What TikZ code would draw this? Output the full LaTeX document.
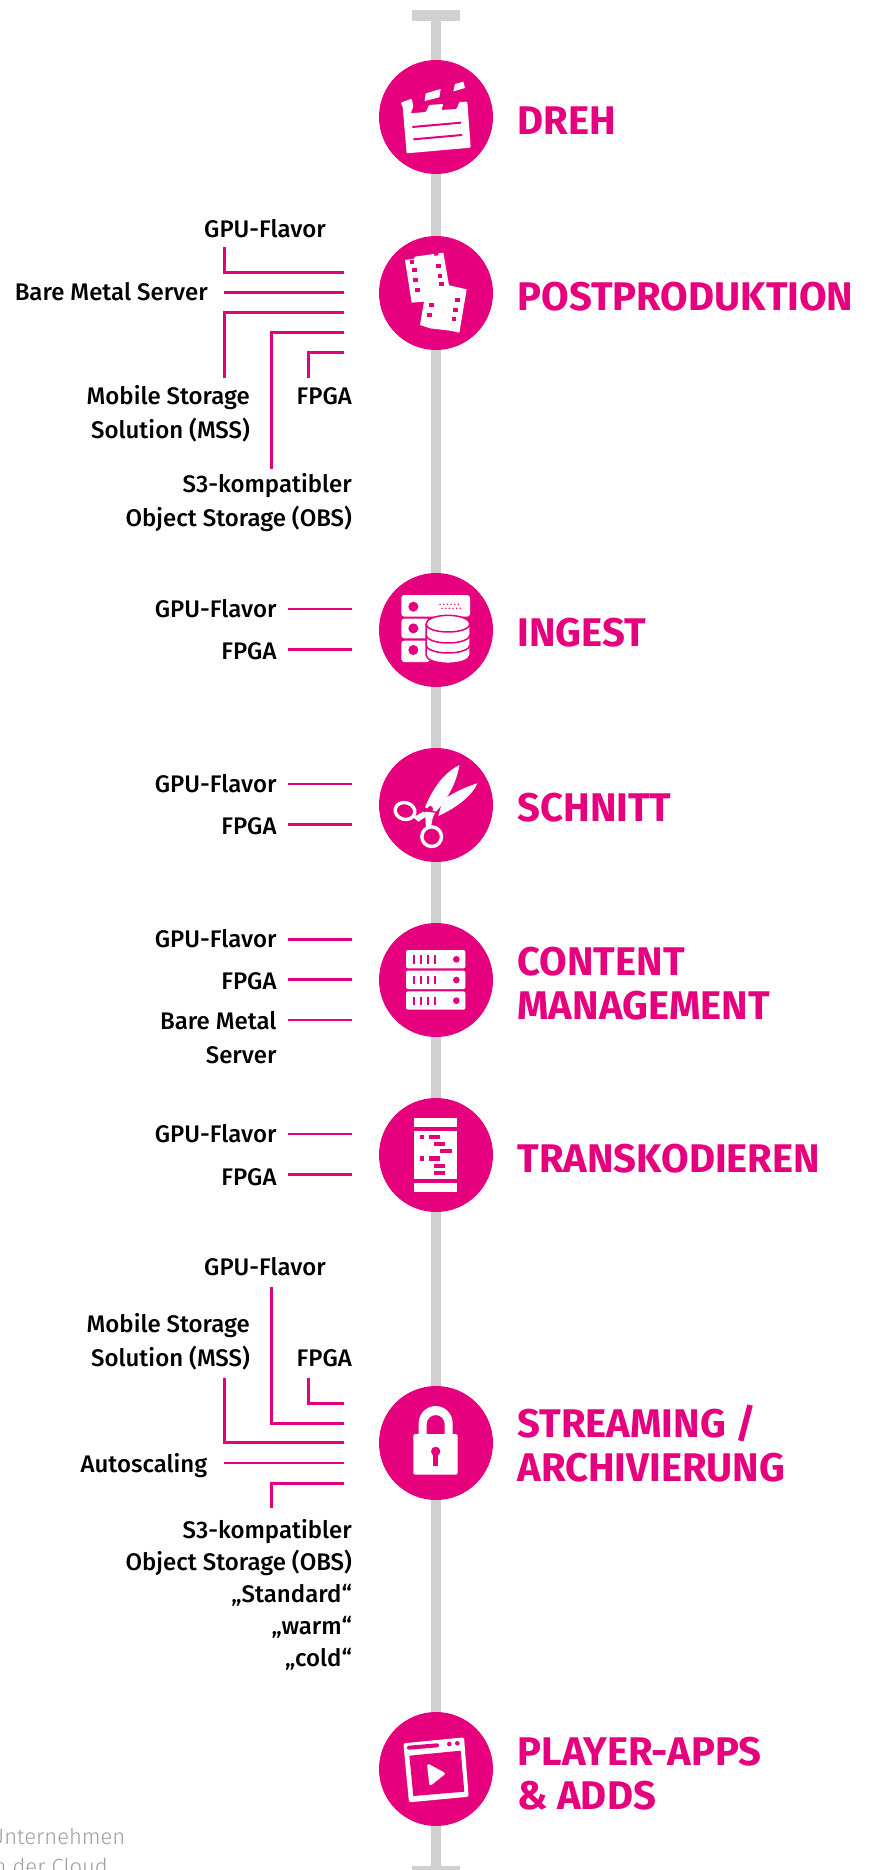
\documentclass[tikz,border=0pt]{standalone}
\usepackage{fontspec}
\setmainfont{Fira Sans Medium}
\newfontfamily\headfont{Fira Sans Bold}
\newfontfamily\footfont{Fira Sans Light}
\definecolor{tmagenta}{HTML}{E6007E}
\definecolor{axisgray}{HTML}{D0D0D0}
\tikzset{
	stage/.style={circle,fill=tmagenta,minimum size=114pt,inner sep=0pt},
	bar/.style={fill=axisgray,minimum width=48pt,minimum height=10.5pt,inner sep=0pt},
	axisline/.style={draw=axisgray,line width=10.5pt},
	feed/.style={draw=tmagenta,line width=2.5pt},
	head/.style={anchor=base west,inner sep=0pt,align=left,text=tmagenta,font=\headfont\fontsize{40}{44}\selectfont},
	lbl/.style={anchor=base east,inner sep=0pt,align=right,font=\fontsize{24}{34}\selectfont},
	foot/.style={anchor=base east,inner sep=0pt,text=black!38,font=\footfont\fontsize{22}{26}\selectfont}
}
\begin{document}
\begin{tikzpicture}[x=1pt,y=-1pt]
	\useasboundingbox (0,0) rectangle (868,1870);

	% vertical axis
	\node[bar] (topbar) at (436,15.3) {};
	\node[bar] (botbar) at (436,1871) {};
	\draw[axisline] (topbar) -- (botbar);

	% stages
	\node[stage] (dreh) at (436,117) {};
	\node[stage] (post) at (436,293) {};
	\node[stage] (ingest) at (436,630) {};
	\node[stage] (schnitt) at (436,805) {};
	\node[stage] (content) at (436,980) {};
	\node[stage] (trans) at (436,1155) {};
	\node[stage] (stream) at (436,1443) {};
	\node[stage] (player) at (436,1769) {};

	% headings
	\node[head] (drehT) at (517.3,134.3) {DREH};
	\node[head] (postT) at (517.3,310) {POSTPRODUKTION};
	\node[head] (ingestT) at (517.3,646.7) {INGEST};
	\node[head] (schnittT) at (517.3,821.7) {SCHNITT};
	\node[head] (contentT) at (517.3,1019) {CONTENT\\MANAGEMENT};
	\node[head] (transT) at (517.3,1172) {TRANSKODIEREN};
	\node[head] (streamT) at (517.3,1481) {STREAMING /\\ARCHIVIERUNG};
	\node[head] (playerT) at (517.3,1809) {PLAYER-APPS\\\& ADDS};

	% labels postproduktion
	\node[lbl] (postGpu) at (326,237.7) {GPU-Flavor};
	\node[lbl] (postBare) at (208,300.3) {Bare Metal Server};
	\node[lbl] (postMss) at (250,438) {Mobile Storage\\Solution (MSS)};
	\node[lbl] (postFpga) at (352,404) {FPGA};
	\node[lbl] (postObs) at (352,526.7) {S3-kompatibler\\Object Storage (OBS)};

	% lines postproduktion
	\coordinate (a1) at (224.7,247.3);
	\coordinate (a2) at (344,272.7);
	\draw[feed] (a1) |- (a2);
	\coordinate (b1) at (223.5,292.7);
	\coordinate (b2) at (344,292.7);
	\draw[feed] (b1) -- (b2);
	\coordinate (c1) at (224.7,377.7);
	\coordinate (c2) at (344,312.7);
	\draw[feed] (c1) |- (c2);
	\coordinate (d1) at (271.7,469.3);
	\coordinate (d2) at (344,332.7);
	\draw[feed] (d1) |- (d2);
	\coordinate (e1) at (308.3,377.7);
	\coordinate (e2) at (344,352.7);
	\draw[feed] (e1) |- (e2);

	% ingest
	\node[lbl] (ingestGpu) at (276.7,617.3) {GPU-Flavor};
	\node[lbl] (ingestFpga) at (276.7,659) {FPGA};
	\coordinate (f1) at (288,609);
	\coordinate (f2) at (352.3,609);
	\draw[feed] (f1) -- (f2);
	\coordinate (g1) at (288,649.7);
	\coordinate (g2) at (352.3,649.7);
	\draw[feed] (g1) -- (g2);

	% schnitt
	\node[lbl] (schnittGpu) at (276.7,792.3) {GPU-Flavor};
	\node[lbl] (schnittFpga) at (276.7,834.3) {FPGA};
	\coordinate (h1) at (288,784);
	\coordinate (h2) at (352.3,784);
	\draw[feed] (h1) -- (h2);
	\coordinate (i1) at (288,824.7);
	\coordinate (i2) at (352.3,824.7);
	\draw[feed] (i1) -- (i2);

	% content management
	\node[lbl] (contentGpu) at (276.7,947.7) {GPU-Flavor};
	\node[lbl] (contentFpga) at (276.7,989) {FPGA};
	\node[lbl] (contentBare) at (276.7,1063.3) {Bare Metal\\Server};
	\coordinate (j1) at (288,939.3);
	\coordinate (j2) at (352.3,939.3);
	\draw[feed] (j1) -- (j2);
	\coordinate (k1) at (288,979.7);
	\coordinate (k2) at (352.3,979.7);
	\draw[feed] (k1) -- (k2);
	\coordinate (l1) at (288,1020);
	\coordinate (l2) at (352.3,1020);
	\draw[feed] (l1) -- (l2);

	% transkodieren
	\node[lbl] (transGpu) at (276.7,1142.7) {GPU-Flavor};
	\node[lbl] (transFpga) at (276.7,1185) {FPGA};
	\coordinate (m1) at (288,1134);
	\coordinate (m2) at (352.3,1134);
	\draw[feed] (m1) -- (m2);
	\coordinate (n1) at (288,1174.7);
	\coordinate (n2) at (352.3,1174.7);
	\draw[feed] (n1) -- (n2);

	% streaming
	\node[lbl] (streamGpu) at (326,1275) {GPU-Flavor};
	\node[lbl] (streamMss) at (250,1366) {Mobile Storage\\Solution (MSS)};
	\node[lbl] (streamFpga) at (352,1366) {FPGA};
	\node[lbl] (streamAuto) at (207.5,1472) {Autoscaling};
	\node[lbl,font=\fontsize{24}{32.1}\selectfont] (streamObs) at (352,1666.7) {S3-kompatibler\\Object Storage (OBS)\\„Standard“\\„warm“\\„cold“};
	\coordinate (o1) at (271.7,1286.7);
	\coordinate (o2) at (344,1423.3);
	\draw[feed] (o1) |- (o2);
	\coordinate (p1) at (308.3,1378.3);
	\coordinate (p2) at (344,1403.3);
	\draw[feed] (p1) |- (p2);
	\coordinate (q1) at (224.7,1378.3);
	\coordinate (q2) at (344,1442.7);
	\draw[feed] (q1) |- (q2);
	\coordinate (r1) at (223.5,1463);
	\coordinate (r2) at (344,1463);
	\draw[feed] (r1) -- (r2);
	\coordinate (s1) at (271.7,1508.3);
	\coordinate (s2) at (344,1483.3);
	\draw[feed] (s1) |- (s2);

	% cut off text bottom left
	\node[foot] (footA) at (125.5,1844) {Unternehmen};
	\node[foot] (footB) at (108,1874) {n der Cloud};

	%% Icons %%
	% clapper
	\begin{scope}[shift={(360,0)},scale=1/3]
		\fill[white,rounded corners=1pt] (122,308) -- (155,296) -- (160,320) -- (152,340) -- (198,336) -- (207,315) -- (250,312) -- (244,330) -- (290,327) -- (298,306) -- (322,305) -- (332,443) -- (140,460) -- (128,320) -- cycle;
		\fill[white] (197,280) -- (242,267) -- (238,292) -- (194,303) -- cycle;
		\fill[white] (285,252) -- (310,245) -- (315,264) -- (280,274) -- cycle;
		\draw[tmagenta,line width=2pt] (157,381) -- (303,368);
		\draw[tmagenta,line width=2pt] (160,418) -- (306,405);
	\end{scope}
	% film
	\begin{scope}[shift={(360,0)},scale=1/3]
		\fill[white] (135,780) -- (162,776) -- (165,770) -- (222,762) -- (222,768) -- (235,766) -- (235,760) -- (250,758) -- (267,856) -- (320,868) -- (298,998) -- (270,992) -- (210,985) -- (180,975) -- (192,905) -- (155,908) -- cycle;
		\foreach \hx/\hy in {156/785,163/811,167/840,172/869,235/798,240/827,245/852,214/916,209/945,292/900,287/929,282/958}
			\fill[tmagenta] (\hx-7,\hy-6) rectangle (\hx+7,\hy+6);
	\end{scope}
	% server with database
	\begin{scope}[shift={(360,570)},scale=1/3]
		\fill[white,rounded corners=3pt] (124,75) rectangle (330,140);
		\fill[white,rounded corners=3pt] (124,146) rectangle (210,205);
		\fill[white,rounded corners=3pt] (124,212) rectangle (210,276);
		\foreach \hy in {110,175,240}
			\fill[tmagenta] (160,\hy) circle (15);
		\foreach \hx in {240,251,262,273,284,295}
			\fill[tmagenta] (\hx,103) circle (2.5) (\hx+6,115) circle (2.5);
		\fill[white,draw=tmagenta,line width=1.5pt] (198,162) -- (198,255) arc (180:0:66 and 25) -- (330,162) arc (0:-180:66 and 26) -- cycle;
		\draw[tmagenta,line width=1.5pt] (198,162) arc (180:0:66 and 24);
		\draw[tmagenta,line width=1.5pt] (198,195) arc (180:0:66 and 24);
		\draw[tmagenta,line width=1.5pt] (198,225) arc (180:0:66 and 24);
	\end{scope}
	% scissors
	\begin{scope}[shift={(360,570)},scale=1/3]
		\fill[white] (195,712) .. controls (225,640) and (260,605) .. (298,585) .. controls (290,640) and (260,690) .. (228,725) -- cycle;
		\fill[white] (248,690) .. controls (285,665) and (320,650) .. (352,640) .. controls (335,680) and (285,715) .. (235,738) -- cycle;
		\draw[white,line width=3.4pt,rotate around={-15:(135,723)}] (135,723) ellipse (30 and 25);
		\draw[white,line width=3.4pt] (215,800) circle (29.5);
		\fill[white] (160,742) -- (190,725) -- (205,735) -- (175,755) -- cycle;
		\fill[white] (195,725) -- (225,728) -- (218,745) -- (212,775) -- (198,775) -- cycle;
		\fill[tmagenta] (211,716) circle (8);
	\end{scope}
	% server rack
	\begin{scope}[shift={(360,920)},scale=1/3]
		\foreach \hy in {90,152,214} {
			\fill[white,rounded corners=2pt] (138,\hy) rectangle (316,\hy+55);
			\foreach \hx in {162,183,203,224}
				\fill[tmagenta] (\hx-3.5,\hy+16) rectangle (\hx+3.5,\hy+41);
			\fill[tmagenta] (289,\hy+28) circle (10);
		}
	\end{scope}
	% code window
	\begin{scope}[shift={(360,920)},scale=1/3]
		\fill[white] (162,594) rectangle (291,622);
		\fill[white] (163,632) rectangle (291,778);
		\fill[white] (162,788) rectangle (291,816);
		\fill[tmagenta] (179,644) rectangle (193,657);
		\fill[tmagenta] (207,644) rectangle (240,657);
		\fill[tmagenta] (223,665) rectangle (256,679);
		\fill[tmagenta] (240,687) rectangle (275,700);
		\fill[tmagenta] (179,709) rectangle (193,722);
		\fill[tmagenta] (207,709) rectangle (240,722);
		\fill[tmagenta] (223,731) rectangle (256,744);
		\fill[tmagenta] (223,753) rectangle (256,766);
	\end{scope}
	% lock
	\begin{scope}[shift={(370,1390)},scale=1/3]
		\fill[white] (146,140) -- (146,100) arc (180:360:51 and 52) -- (248,140) -- (224,140) -- (224,102) arc (0:-180:27 and 27) -- (170,140) -- cycle;
		\fill[white,rounded corners=1.5pt] (130,132) rectangle (263,254);
		\fill[tmagenta] (197,184) circle (14);
		\fill[tmagenta] (189,190) rectangle (205,228);
	\end{scope}
	% player window
	\begin{scope}[shift={(370,1725)},scale=1/3]
		\fill[white,rounded corners=2pt] (100,55) -- (282,37) -- (296,215) -- (117,232) -- cycle;
		\fill[tmagenta] (118,92) -- (272,77) -- (283,200) -- (130,213) -- cycle;
		\draw[tmagenta,line width=4pt,line cap=round] (117,68) -- (201,61);
		\fill[tmagenta] (238,57) circle (7) (262,55) circle (7);
		\fill[white,draw=white,line width=3pt,line join=round] (176,122) -- (220,146) -- (182,176) -- cycle;
	\end{scope}
\end{tikzpicture}
\end{document}
